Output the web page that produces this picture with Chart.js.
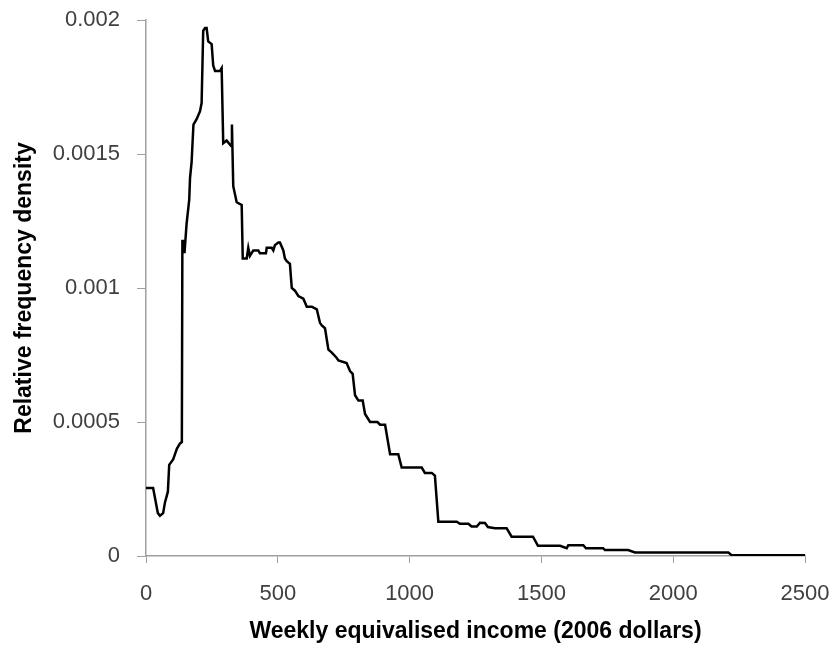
<!DOCTYPE html>
<html>
<head>
<meta charset="utf-8">
<script src="https://cdn.jsdelivr.net/npm/chart.js@4.4.1/dist/chart.umd.min.js"></script>
<style>
  html, body { margin: 0; padding: 0; background: #fff; }
  #wrap { width: 837px; height: 652px; position: relative; }
</style>
</head>
<body>
<div id="wrap"><canvas id="c" width="837" height="652"></canvas></div>
<script>
const incomes = [0, 27, 45, 53, 65, 72, 83, 88, 103, 110, 117, 129, 136, 138, 140, 143, 146, 154, 164, 167, 173, 180, 192, 205, 211, 217, 224, 230, 236, 249, 255, 262, 281, 287, 293, 306, 323, 326, 331, 344, 363, 367, 382, 388, 394, 407, 426, 432, 455, 458, 477, 483, 489, 502, 508, 521, 527, 534, 546, 553, 565, 578, 597, 610, 629, 648, 660, 667, 679, 692, 704, 723, 730, 761, 774, 784, 793, 806, 822, 831, 850, 878, 888, 907, 926, 957, 970, 1046, 1058, 1084, 1096, 1109, 1179, 1191, 1223, 1235, 1255, 1267, 1286, 1297, 1324, 1368, 1387, 1468, 1487, 1571, 1596, 1602, 1659, 1669, 1734, 1741, 1829, 1855, 2209, 2222, 2500];
const densities = [0.000254, 0.000254, 0.00016, 0.00015, 0.00016, 0.0002, 0.00024, 0.00034, 0.00036, 0.00038, 0.0004, 0.00042, 0.000425, 0.00118, 0.00114, 0.00117, 0.00113, 0.00124, 0.00133, 0.00141, 0.00147, 0.00161, 0.00163, 0.00166, 0.00169, 0.00196, 0.00197, 0.00197, 0.00192, 0.00191, 0.00183, 0.00181, 0.00181, 0.00182, 0.00154, 0.00155, 0.00153, 0.00161, 0.00138, 0.00132, 0.00131, 0.00111, 0.00111, 0.00115, 0.00112, 0.00114, 0.00114, 0.00113, 0.00113, 0.00115, 0.00115, 0.00114, 0.00116, 0.00117, 0.00117, 0.00114, 0.00111, 0.0011, 0.00109, 0.001, 0.00099, 0.00097, 0.00096, 0.00093, 0.00093, 0.00092, 0.00087, 0.00086, 0.00085, 0.00077, 0.00076, 0.00074, 0.00073, 0.00072, 0.00069, 0.00068, 0.0006, 0.00058, 0.00058, 0.00053, 0.0005, 0.0005, 0.00049, 0.00049, 0.00038, 0.00038, 0.00033, 0.00033, 0.00031, 0.00031, 0.0003, 0.000128, 0.000128, 0.00012, 0.00012, 0.00011, 0.00011, 0.000124, 0.000123, 0.000108, 0.000104, 0.000104, 0.000072, 0.000072, 0.000038, 0.000038, 0.000029, 0.00004, 0.00004, 0.000029, 0.000029, 0.000022, 0.000022, 0.000013, 0.000013, 0.000003, 0.000003];
const xTicks = [0, 500, 1000, 1500, 2000, 2500];
const yTicks = [0, 0.0005, 0.001, 0.0015, 0.002];
const xTitle = 'Weekly equivalised income (2006 dollars)';
const yTitle = 'Relative frequency density';

const points = incomes.map((x, i) => ({ x: x, y: densities[i] }));
const axisGray = '#a0a0a0';
const labelColor = '#404040';

new Chart(document.getElementById('c'), {
  type: 'line',
  data: {
    datasets: [{
      data: points,
      borderColor: '#000',
      borderWidth: 2.5,
      pointRadius: 0,
      tension: 0,
      fill: false
    }]
  },
  options: {
    responsive: false,
    animation: false,
    devicePixelRatio: 1,
    layout: { padding: { top: 20, right: 32, bottom: 0, left: 0 } },
    plugins: { legend: { display: false }, tooltip: { enabled: false } },
    scales: {
      x: {
        type: 'linear',
        min: 0, max: 2500,
        afterBuildTicks: (s) => { s.ticks = xTicks.map(v => ({ value: v })); },
        afterFit: (s) => { s.height = 96; s.paddingLeft = 0; s.paddingRight = 0; },
        ticks: {
          color: labelColor,
          font: { family: 'Liberation Sans', size: 22 },
          padding: 18,
          maxRotation: 0,
          callback: (v) => String(v)
        },
        grid: { display: true, drawOnChartArea: false, drawTicks: true, tickLength: 7, color: axisGray, lineWidth: 1 },
        border: { display: true, color: axisGray, width: 1.5 },
        title: {
          display: true,
          text: xTitle,
          color: '#000',
          font: { family: 'Liberation Sans', size: 23, weight: 'bold' },
          padding: { top: 0, bottom: 7 }
        }
      },
      y: {
        type: 'linear',
        min: 0, max: 0.002,
        afterBuildTicks: (s) => { s.ticks = yTicks.map(v => ({ value: v })); },
        afterFit: (s) => { s.width = 146; s.paddingTop = 0; s.paddingBottom = 0; },
        ticks: {
          color: labelColor,
          font: { family: 'Liberation Sans', size: 22 },
          padding: 17,
          callback: (v) => String(v)
        },
        grid: { display: true, drawOnChartArea: false, drawTicks: true, tickLength: 9, color: axisGray, lineWidth: 1 },
        border: { display: true, color: axisGray, width: 1.5 },
        title: {
          display: true,
          text: yTitle,
          color: '#000',
          font: { family: 'Liberation Sans', size: 23, weight: 'bold' },
          padding: { top: 11, bottom: 0 }
        }
      }
    }
  }
});
</script>
</body>
</html>
